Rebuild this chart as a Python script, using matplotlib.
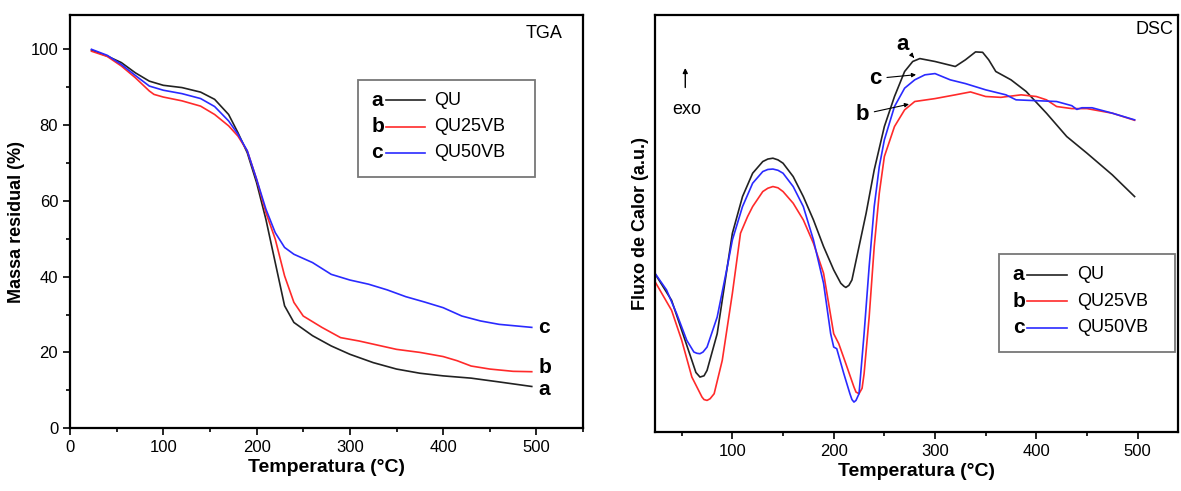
import matplotlib.pyplot as plt
from matplotlib.ticker import MultipleLocator
from matplotlib.patches import Rectangle

plt.rcParams['font.family'] = ['Liberation Sans', 'DejaVu Sans']

# TGA data (temperature in C, residual mass in %)
tga_T_a = [23, 40, 55, 70, 85, 100, 120, 140, 155, 170, 180, 190, 200, 210, 220, 230, 240,
           260, 280, 300, 325, 350, 375, 400, 430, 460, 495]
tga_a = [99.8, 98.2, 96.5, 93.8, 91.6, 90.5, 89.9, 88.7, 86.8, 82.8, 78.0, 72.7, 64.8, 55.1,
         43.7, 32.3, 27.9, 24.4, 21.7, 19.5, 17.3, 15.6, 14.5, 13.8, 13.2, 12.2, 11.0]
tga_T_b = [23, 40, 55, 70, 85, 90, 100, 120, 140, 155, 170, 180, 190, 200, 210, 220, 230, 240,
           250, 270, 290, 310, 330, 350, 375, 400, 415, 430, 450, 475, 495]
tga_b = [99.5, 98.1, 95.6, 92.5, 89.0, 88.1, 87.4, 86.4, 85.0, 82.8, 79.8, 77.1, 73.2, 65.7,
         56.9, 49.9, 40.2, 33.2, 29.6, 26.6, 23.9, 23.0, 21.9, 20.8, 20.0, 18.9, 17.8, 16.4,
         15.6, 15.0, 14.9]
tga_T_c = [23, 40, 55, 70, 85, 100, 120, 140, 155, 170, 180, 190, 200, 210, 220, 230, 240,
           260, 280, 300, 320, 340, 360, 380, 400, 420, 440, 460, 495]
tga_c = [100.0, 98.4, 96.0, 93.1, 90.3, 89.2, 88.3, 87.0, 84.9, 81.1, 77.6, 73.2, 65.7, 57.8,
         51.6, 47.7, 45.9, 43.7, 40.6, 39.1, 38.0, 36.5, 34.7, 33.3, 31.8, 29.6, 28.3, 27.4, 26.6]

# DSC data (temperature in C, heat flow in arbitrary units)
dsc_T_a = [23.6, 40, 50, 60, 64, 68, 72, 75, 85, 95, 100, 110, 120, 130, 135, 140, 145, 150,
           160, 170, 180, 190, 200, 207, 210, 212, 215, 218, 225, 232, 240, 250, 260, 270, 278,
           285, 300, 320, 330, 340, 347, 353, 360, 375, 390, 410, 430, 450, 475, 497]
dsc_a = [38.0, 31.6, 24.4, 17.2, 14.3, 13.2, 13.5, 14.8, 23.6, 39.7, 47.7, 56.5, 62.1, 64.9,
         65.5, 65.7, 65.3, 64.5, 61.3, 56.5, 50.9, 44.5, 38.9, 35.7, 35.0, 34.7, 35.2, 36.5,
         44.5, 52.5, 62.9, 73.3, 80.5, 86.5, 88.9, 89.6, 88.9, 87.7, 89.3, 91.2, 91.1, 89.3,
         86.5, 84.5, 81.7, 76.5, 70.9, 66.9, 61.7, 56.5]
dsc_T_b = [23.6, 40, 50, 60, 70, 72, 75, 78, 82, 90, 100, 108, 115, 120, 130, 135, 140, 145,
           150, 160, 170, 180, 190, 200, 205, 212, 220, 222, 225, 228, 230, 235, 240, 245, 250,
           260, 270, 280, 300, 320, 335, 350, 365, 385, 400, 410, 420, 435, 450, 475, 497]
dsc_b = [36.1, 29.2, 22.0, 13.2, 8.4, 7.8, 7.6, 8.0, 9.2, 17.2, 33.3, 47.7, 51.7, 54.1, 57.7,
         58.5, 58.9, 58.6, 57.7, 54.9, 50.9, 45.3, 38.1, 23.6, 21.2, 16.4, 10.8, 9.6, 9.2, 10.5,
         14.0, 27.6, 44.5, 57.3, 66.1, 73.3, 77.3, 79.3, 80.0, 80.9, 81.6, 80.5, 80.3, 80.9,
         80.5, 79.7, 78.1, 77.6, 77.6, 76.5, 74.8]
dsc_T_c = [23.6, 35, 45, 55, 62, 65, 68, 71, 75, 85, 95, 100, 110, 120, 130, 135, 140, 145,
           150, 160, 170, 180, 190, 197, 200, 203, 210, 216, 218, 220, 222, 225, 230, 235, 240,
           245, 250, 260, 270, 280, 290, 300, 315, 330, 350, 370, 380, 400, 420, 435, 440, 445,
           455, 475, 497]
dsc_c = [38.1, 34.1, 28.4, 22.0, 19.2, 18.9, 18.8, 19.2, 20.4, 27.6, 39.7, 46.1, 54.1, 59.7,
         62.5, 63.0, 63.1, 62.8, 62.1, 58.9, 54.1, 46.1, 35.7, 23.6, 20.4, 20.0, 14.0, 9.2,
         7.8, 7.2, 7.6, 9.2, 23.6, 39.7, 54.1, 63.7, 70.1, 78.1, 82.5, 84.5, 85.7, 86.0, 84.5,
         83.6, 82.1, 80.9, 79.7, 79.5, 79.3, 78.3, 77.4, 77.8, 77.8, 76.5, 74.9]

letters = ['a', 'b', 'c']
names = ['QU', 'QU25VB', 'QU50VB']
colors = ['#222222', '#ff2a2a', '#2a2aff']

fig = plt.figure(figsize=(11.81, 4.91), dpi=100)
ax1 = fig.add_axes([0.0593, 0.128, 0.4344, 0.841])
ax2 = fig.add_axes([0.5546, 0.120, 0.4430, 0.849])


def draw_legend(ax, x0, y0, w, h):
    ax.add_patch(Rectangle((x0, y0), w, h, transform=ax.transAxes, fill=False,
                           edgecolor='#777777', lw=1.3))
    for i, f in enumerate([0.79, 0.52, 0.25]):
        yy = y0 + h * f
        ax.text(x0 + 0.026, yy, letters[i], transform=ax.transAxes, fontsize=15,
                fontweight='bold', va='center')
        ax.plot([x0 + 0.054, x0 + 0.13], [yy, yy], transform=ax.transAxes, color=colors[i], lw=1.2)
        ax.text(x0 + 0.148, yy, names[i], transform=ax.transAxes, fontsize=13, va='center')


# TGA
for T, m, c in zip([tga_T_a, tga_T_b, tga_T_c], [tga_a, tga_b, tga_c], colors):
    ax1.plot(T, m, color=c, lw=1.2)
ax1.text(502, 10.3, 'a', fontsize=15, fontweight='bold', va='center')
ax1.text(502, 16.0, 'b', fontsize=15, fontweight='bold', va='center')
ax1.text(502, 26.6, 'c', fontsize=15, fontweight='bold', va='center')
ax1.text(508, 104.3, 'TGA', fontsize=13, ha='center', va='center')
ax1.set_xlim(0, 550)
ax1.set_ylim(0, 109)
ax1.xaxis.set_major_locator(MultipleLocator(100))
ax1.xaxis.set_minor_locator(MultipleLocator(50))
ax1.yaxis.set_major_locator(MultipleLocator(20))
ax1.yaxis.set_minor_locator(MultipleLocator(10))
ax1.set_xlabel('Temperatura (°C)', fontsize=14, fontweight='bold', labelpad=3)
ax1.set_ylabel('Massa residual (%)', fontsize=13, fontweight='bold')
draw_legend(ax1, 0.561, 0.608, 0.345, 0.235)

# DSC
for T, v, c in zip([dsc_T_a, dsc_T_b, dsc_T_c], [dsc_a, dsc_b, dsc_c], colors):
    ax2.plot(T, v, color=c, lw=1.2)
ax2.set_xlim(23.6, 540)
ax2.set_ylim(0, 100)
ax2.xaxis.set_major_locator(MultipleLocator(100))
ax2.xaxis.set_minor_locator(MultipleLocator(50))
ax2.set_yticks([])
ax2.set_xlabel('Temperatura (°C)', fontsize=14, fontweight='bold', labelpad=3)
ax2.set_ylabel('Fluxo de Calor (a.u.)', fontsize=13, fontweight='bold')
ax2.text(517, 96.5, 'DSC', fontsize=13, ha='center', va='center')
ax2.annotate('', xy=(53.5, 88), xytext=(53.5, 82),
             arrowprops=dict(arrowstyle='-|>', color='black', lw=1, mutation_scale=7))
ax2.text(55, 77.5, 'exo', fontsize=13, ha='center', va='center')
ax2.annotate('a', xy=(281, 89.3), xytext=(268, 93), fontsize=16, fontweight='bold',
             ha='center', va='center',
             arrowprops=dict(arrowstyle='-|>', color='black', lw=0.8, mutation_scale=6))
ax2.annotate('c', xy=(284, 85.8), xytext=(241, 84.8), fontsize=16, fontweight='bold',
             ha='center', va='center',
             arrowprops=dict(arrowstyle='-|>', color='black', lw=0.8, mutation_scale=6))
ax2.annotate('b', xy=(277, 78.8), xytext=(228, 76.2), fontsize=16, fontweight='bold',
             ha='center', va='center',
             arrowprops=dict(arrowstyle='-|>', color='black', lw=0.8, mutation_scale=6))
draw_legend(ax2, 0.658, 0.192, 0.335, 0.235)

for ax in (ax1, ax2):
    ax.tick_params(which='both', direction='out', labelsize=12, width=1.2)
    ax.tick_params(which='major', length=5)
    ax.tick_params(which='minor', length=3)
    for s in ax.spines.values():
        s.set_linewidth(1.6)

fig.savefig('out.png', dpi=100)
